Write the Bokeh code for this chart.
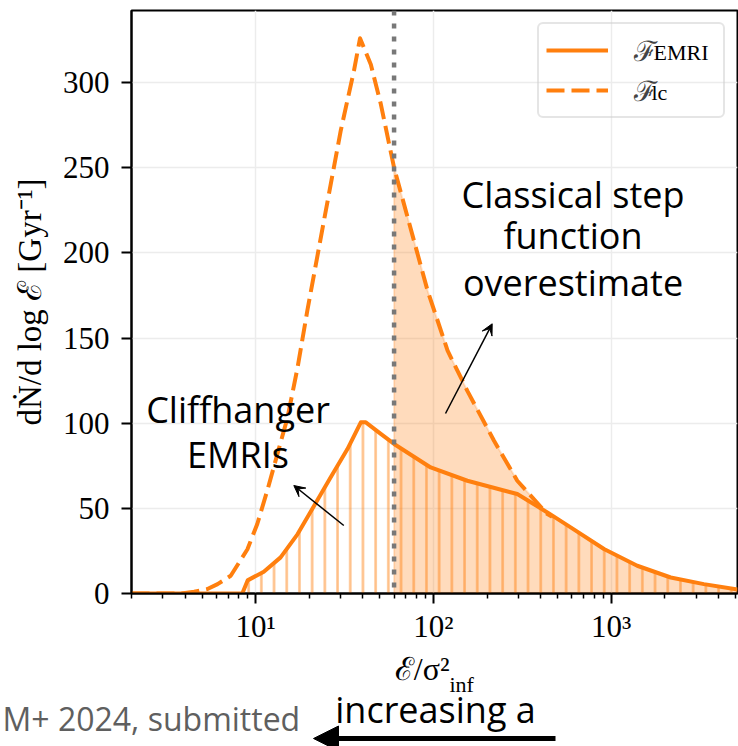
import math
import numpy as np
from bokeh.plotting import figure
from bokeh.layouts import column
from bokeh.models import (Range1d, FixedTicker, Span, Label, Arrow, VeeHead,
                          NormalHead, Legend, LegendItem)
from bokeh.embed import file_html
from bokeh.resources import INLINE

# ---------------- data ----------------
emri_x = [2.0, 8.4, 9.0, 11.1, 13.8, 17.2, 21.3, 26.4, 32.8, 39.0, 41.6, 50.5,
          60.0, 96.4, 155, 296, 437, 591, 910, 1400, 2160, 3320, 5130]
emri_y = [0.0, 0.0, 7.7, 12.8, 21.2, 34.9, 51.5, 68.2, 84.8, 100.5, 100.5, 93.7,
          87.8, 74.0, 66.2, 58.4, 47.6, 38.8, 26.1, 16.3, 9.4, 5.5, 2.3]

lc_x = [2.0, 3.8, 4.5, 5.35, 6.1, 7.23, 8.98, 10.2, 11.6, 15.1, 17.2, 19.5, 24.2,
        30.1, 35.7, 38.6, 44.4, 50.5, 60.0, 92.5, 120, 155, 219, 296, 437, 465]
lc_y = [0.0, 0.0, 1.0, 2.6, 5.5, 10.4, 26.0, 40.8, 60.3, 103.4, 132.8, 166.0, 219.0,
        272.0, 307.0, 326.0, 310.6, 287.5, 250.0, 178.0, 142.6, 119.0, 89.7, 66.2,
        46.6, 45.0]

cut_x = 60.0  # classical step-function threshold (dotted line)

x_major = [10, 100, 1000]
x_major_labels = ["10\u00b9", "10\u00b2", "10\u00b3"]
x_minor = [2, 3, 4, 5, 6, 7, 8, 9, 20, 30, 40, 50, 60, 70, 80, 90,
           200, 300, 400, 500, 600, 700, 800, 900, 2000, 3000, 4000, 5000]
y_ticks = [0, 50, 100, 150, 200, 250, 300]

legend_labels = ["\u2131", "\u2131"]
legend_subs = ["EMRI", "lc"]

# ---------------- layout ----------------
ORANGE = "#ff7f0e"
W = 738
H_TOTAL = 746
H1 = 650                 # main figure
H2 = H_TOTAL - H1        # strip below for x label / notes
L, R, T = 131, 1, 10
FRAME_BOTTOM = 593
B = H1 - FRAME_BOTTOM
XR = (2.0, 5130.0)
YR = (0.0, 342.3)
FX0, FX1 = L, W - R
FY0, FY1 = T, FRAME_BOTTOM


def xd(px):
    lo, hi = math.log10(XR[0]), math.log10(XR[1])
    return 10 ** (lo + (px - FX0) / (FX1 - FX0) * (hi - lo))


def yd(py):
    return YR[0] + (FY1 - py) / (FY1 - FY0) * (YR[1] - YR[0])


def y2(py):  # page pixel row -> strip coordinate
    return H_TOTAL - py


def base(py, size):  # baseline correction for alphabetic-anchored labels
    return py - 0.36 * size


p = figure(width=W, height=H1, x_axis_type="log",
           x_range=Range1d(*XR), y_range=Range1d(*YR),
           output_backend="svg", toolbar_location=None,
           min_border_left=L, min_border_right=R,
           min_border_top=T, min_border_bottom=B)
p.frame_align = False
p.background_fill_color = "white"
p.border_fill_color = "white"
p.outline_line_color = "black"
p.outline_line_width = 2

# grid
p.xgrid.ticker = FixedTicker(ticks=x_major)
p.ygrid.ticker = FixedTicker(ticks=y_ticks)
p.grid.grid_line_color = "#ececec"
p.grid.grid_line_width = 1.5

# axes
p.xaxis.ticker = FixedTicker(ticks=x_major, minor_ticks=x_minor)
p.xaxis.major_label_overrides = dict(zip(x_major, x_major_labels))
p.yaxis.ticker = FixedTicker(ticks=y_ticks)
p.yaxis.minor_tick_line_color = None
for ax in (p.xaxis[0], p.yaxis[0]):
    ax.axis_line_width = 2
    ax.major_tick_line_width = 2
    ax.minor_tick_line_width = 1.5
    ax.major_tick_out = 10
    ax.major_tick_in = 0
    ax.minor_tick_out = 5
    ax.minor_tick_in = 0
    ax.major_label_text_font = "Liberation Serif"
    ax.major_label_text_font_size = "31px"
    ax.major_label_text_color = "black"
    ax.axis_label_text_font = "Liberation Serif"
    ax.axis_label_text_font_size = "33px"
    ax.axis_label_text_font_style = "normal"
    ax.axis_label_text_color = "black"
p.yaxis.major_label_standoff = 12
p.xaxis.major_label_standoff = 5
p.yaxis.axis_label = "d\u1e44/d log \u2130 [Gyr\u207b\u00b9]"
p.yaxis.axis_label_standoff = 12

# ---------------- marks ----------------
lx, ly = np.array(lc_x), np.array(lc_y)
ex, ey = np.array(emri_x), np.array(emri_y)
m_lc = lx >= cut_x
m_em = ex > lx[-1]
top_x = np.concatenate([lx[m_lc], ex[m_em]])
top_y = np.concatenate([ly[m_lc], ey[m_em]])
patch_x = np.concatenate([[cut_x], top_x, [top_x[-1], cut_x]])
patch_y = np.concatenate([[0.0], top_y, [0.0, 0.0]])
p.patch(patch_x, patch_y, fill_color=ORANGE, fill_alpha=0.28,
        line_color=ORANGE, line_alpha=0.2, line_width=2)

p.varea(x=emri_x, y1=0, y2=emri_y, fill_color=None,
        hatch_pattern="vertical_line", hatch_color=ORANGE, hatch_alpha=0.5,
        hatch_weight=2.5, hatch_scale=12.7)

r_lc = p.line(lc_x, lc_y, line_color=ORANGE, line_width=4, line_dash="18 7",
              line_join="round")
r_emri = p.line(emri_x, emri_y, line_color=ORANGE, line_width=4,
                line_join="round")

p.add_layout(Span(location=cut_x, dimension="height", line_color="#787878",
                  line_width=4.5, line_dash="5 8"))

# legend
legend = Legend(items=[LegendItem(label=legend_labels[0], renderers=[r_emri]),
                       LegendItem(label=legend_labels[1], renderers=[r_lc])],
                location="top_right", margin=12, padding=7, spacing=2,
                glyph_width=62, glyph_height=26, label_height=26,
                label_width=82, label_standoff=26,
                label_text_font="Liberation Serif",
                label_text_font_size="28px",
                label_text_line_height=0.9,
                label_text_baseline="middle",
                border_line_color="#cccccc", border_line_width=2,
                border_radius=6,
                background_fill_color="white", background_fill_alpha=0.0)
p.add_layout(legend)

SUB = 22
sub_kw = dict(text_font="Liberation Serif", text_font_size=f"{SUB}px",
              text_color="black", text_baseline="alphabetic", level="overlay")
p.add_layout(Label(x=xd(653), y=yd(base(60, SUB)), text=legend_subs[0], **sub_kw))
p.add_layout(Label(x=xd(651), y=yd(base(100, SUB)), text=legend_subs[1], **sub_kw))

# ---------------- annotations ----------------
NOTE = 36
note_kw = dict(text_font="Open Sans", text_font_size=f"{NOTE}px", text_color="black",
               text_align="center", text_baseline="alphabetic")
for txt, bx, by in [("Classical step", 572.5, 206.7), ("function", 572.5, 248),
                    ("overestimate", 572.5, 295), ("Cliffhanger", 237.5, 421.7),
                    ("EMRIs", 237.5, 466.7)]:
    p.add_layout(Label(x=xd(bx), y=yd(base(by, NOTE)), text=txt, **note_kw))

p.add_layout(Arrow(x_start=xd(445), y_start=yd(413), x_end=xd(491.7), y_end=yd(323.3),
                   line_color="black", line_width=1.5,
                   end=VeeHead(size=11, fill_color="black", line_color="black",
                               line_width=1)))
p.add_layout(Arrow(x_start=xd(343.3), y_start=yd(525), x_end=xd(293.3), y_end=yd(485),
                   line_color="black", line_width=1.5,
                   end=VeeHead(size=11, fill_color="black", line_color="black",
                               line_width=1)))

# ---------------- strip below: x label, credit, direction arrow ----------------
q = figure(width=W, height=H2, x_range=Range1d(0, W), y_range=Range1d(0, H2),
           output_backend="svg", toolbar_location=None,
           x_axis_location=None, y_axis_location=None,
           min_border=0, min_border_left=0, min_border_right=0,
           min_border_top=0, min_border_bottom=0)
q.frame_align = False
q.grid.visible = False
q.outline_line_color = None
q.background_fill_color = "white"
q.border_fill_color = "white"

XL = 32
q.add_layout(Label(x=449, y=y2(base(680, XL)), text="\u2130/\u03c3\u00b2",
                   text_font="Liberation Serif", text_font_size=f"{XL}px",
                   text_color="black", text_align="right",
                   text_baseline="alphabetic"))
q.add_layout(Label(x=449, y=y2(base(691.5, SUB)), text="inf",
                   text_font="Liberation Serif", text_font_size=f"{SUB}px",
                   text_color="black", text_align="left",
                   text_baseline="alphabetic"))
CR = 32
q.add_layout(Label(x=2, y=y2(base(730, CR)), text="M+ 2024, submitted",
                   text_font="Open Sans", text_font_size=f"{CR}px",
                   text_color="#5f5f5f", text_baseline="alphabetic"))
q.add_layout(Label(x=435, y=y2(base(722, NOTE)), text="increasing a", **note_kw))
q.add_layout(Arrow(x_start=555, y_start=y2(738), x_end=313, y_end=y2(738),
                   line_color="black", line_width=5,
                   end=NormalHead(size=25, fill_color="black", line_color="black",
                                  line_width=1)))

page = column(p, q, spacing=0)
open("out.html", "w").write(file_html(page, INLINE))
